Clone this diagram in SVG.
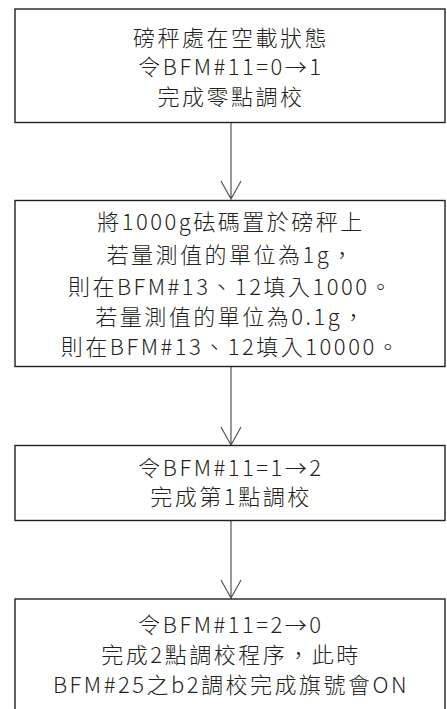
<svg xmlns="http://www.w3.org/2000/svg" width="447" height="709" viewBox="0 0 447 709">
<style>
.box{fill:#fff;stroke:#231f20;stroke-width:1.4}
.t{font-family:"Noto Sans CJK TC","Noto Sans",sans-serif;font-size:22px;font-weight:300;fill:#231f20;text-anchor:middle;letter-spacing:2.5px}
.c{stroke:#555;stroke-width:1.2;fill:none}
</style>
<rect width="447" height="709" fill="#fff"/>
<g id="connectors">
<path class="c" d="M231 123V199M221 181L231 199L241 181"/>
<path class="c" d="M231 367V445M221 427L231 445L241 427"/>
<path class="c" d="M231 521V598M221 580L231 598L241 580"/>
</g>
<g id="n1">
<rect class="box" x="15" y="9" width="430" height="113.5"/>
<text class="t" x="231" y="46">磅秤處在空載狀態</text>
<text class="t" x="231" y="75">令BFM#11=0→1</text>
<text class="t" x="231" y="105">完成零點調校</text>
</g>
<g id="n2">
<rect class="box" x="15" y="200.5" width="430" height="166"/>
<text class="t" x="231" y="230">將1000g砝碼置於磅秤上</text>
<text class="t" x="231" y="263">若量測值的單位為1g，</text>
<text class="t" x="231" y="295">則在BFM#13、12填入1000。</text>
<text class="t" x="231" y="325">若量測值的單位為0.1g，</text>
<text class="t" x="231" y="355">則在BFM#13、12填入10000。</text>
</g>
<g id="n3">
<rect class="box" x="15" y="445.5" width="430" height="75"/>
<text class="t" x="231" y="476">令BFM#11=1→2</text>
<text class="t" x="231" y="505">完成第1點調校</text>
</g>
<g id="n4">
<rect class="box" x="15" y="599" width="430" height="120"/>
<text class="t" x="231" y="633">令BFM#11=2→0</text>
<text class="t" x="231" y="663">完成2點調校程序，此時</text>
<text class="t" x="231" y="693">BFM#25之b2調校完成旗號會ON</text>
</g>
</svg>
